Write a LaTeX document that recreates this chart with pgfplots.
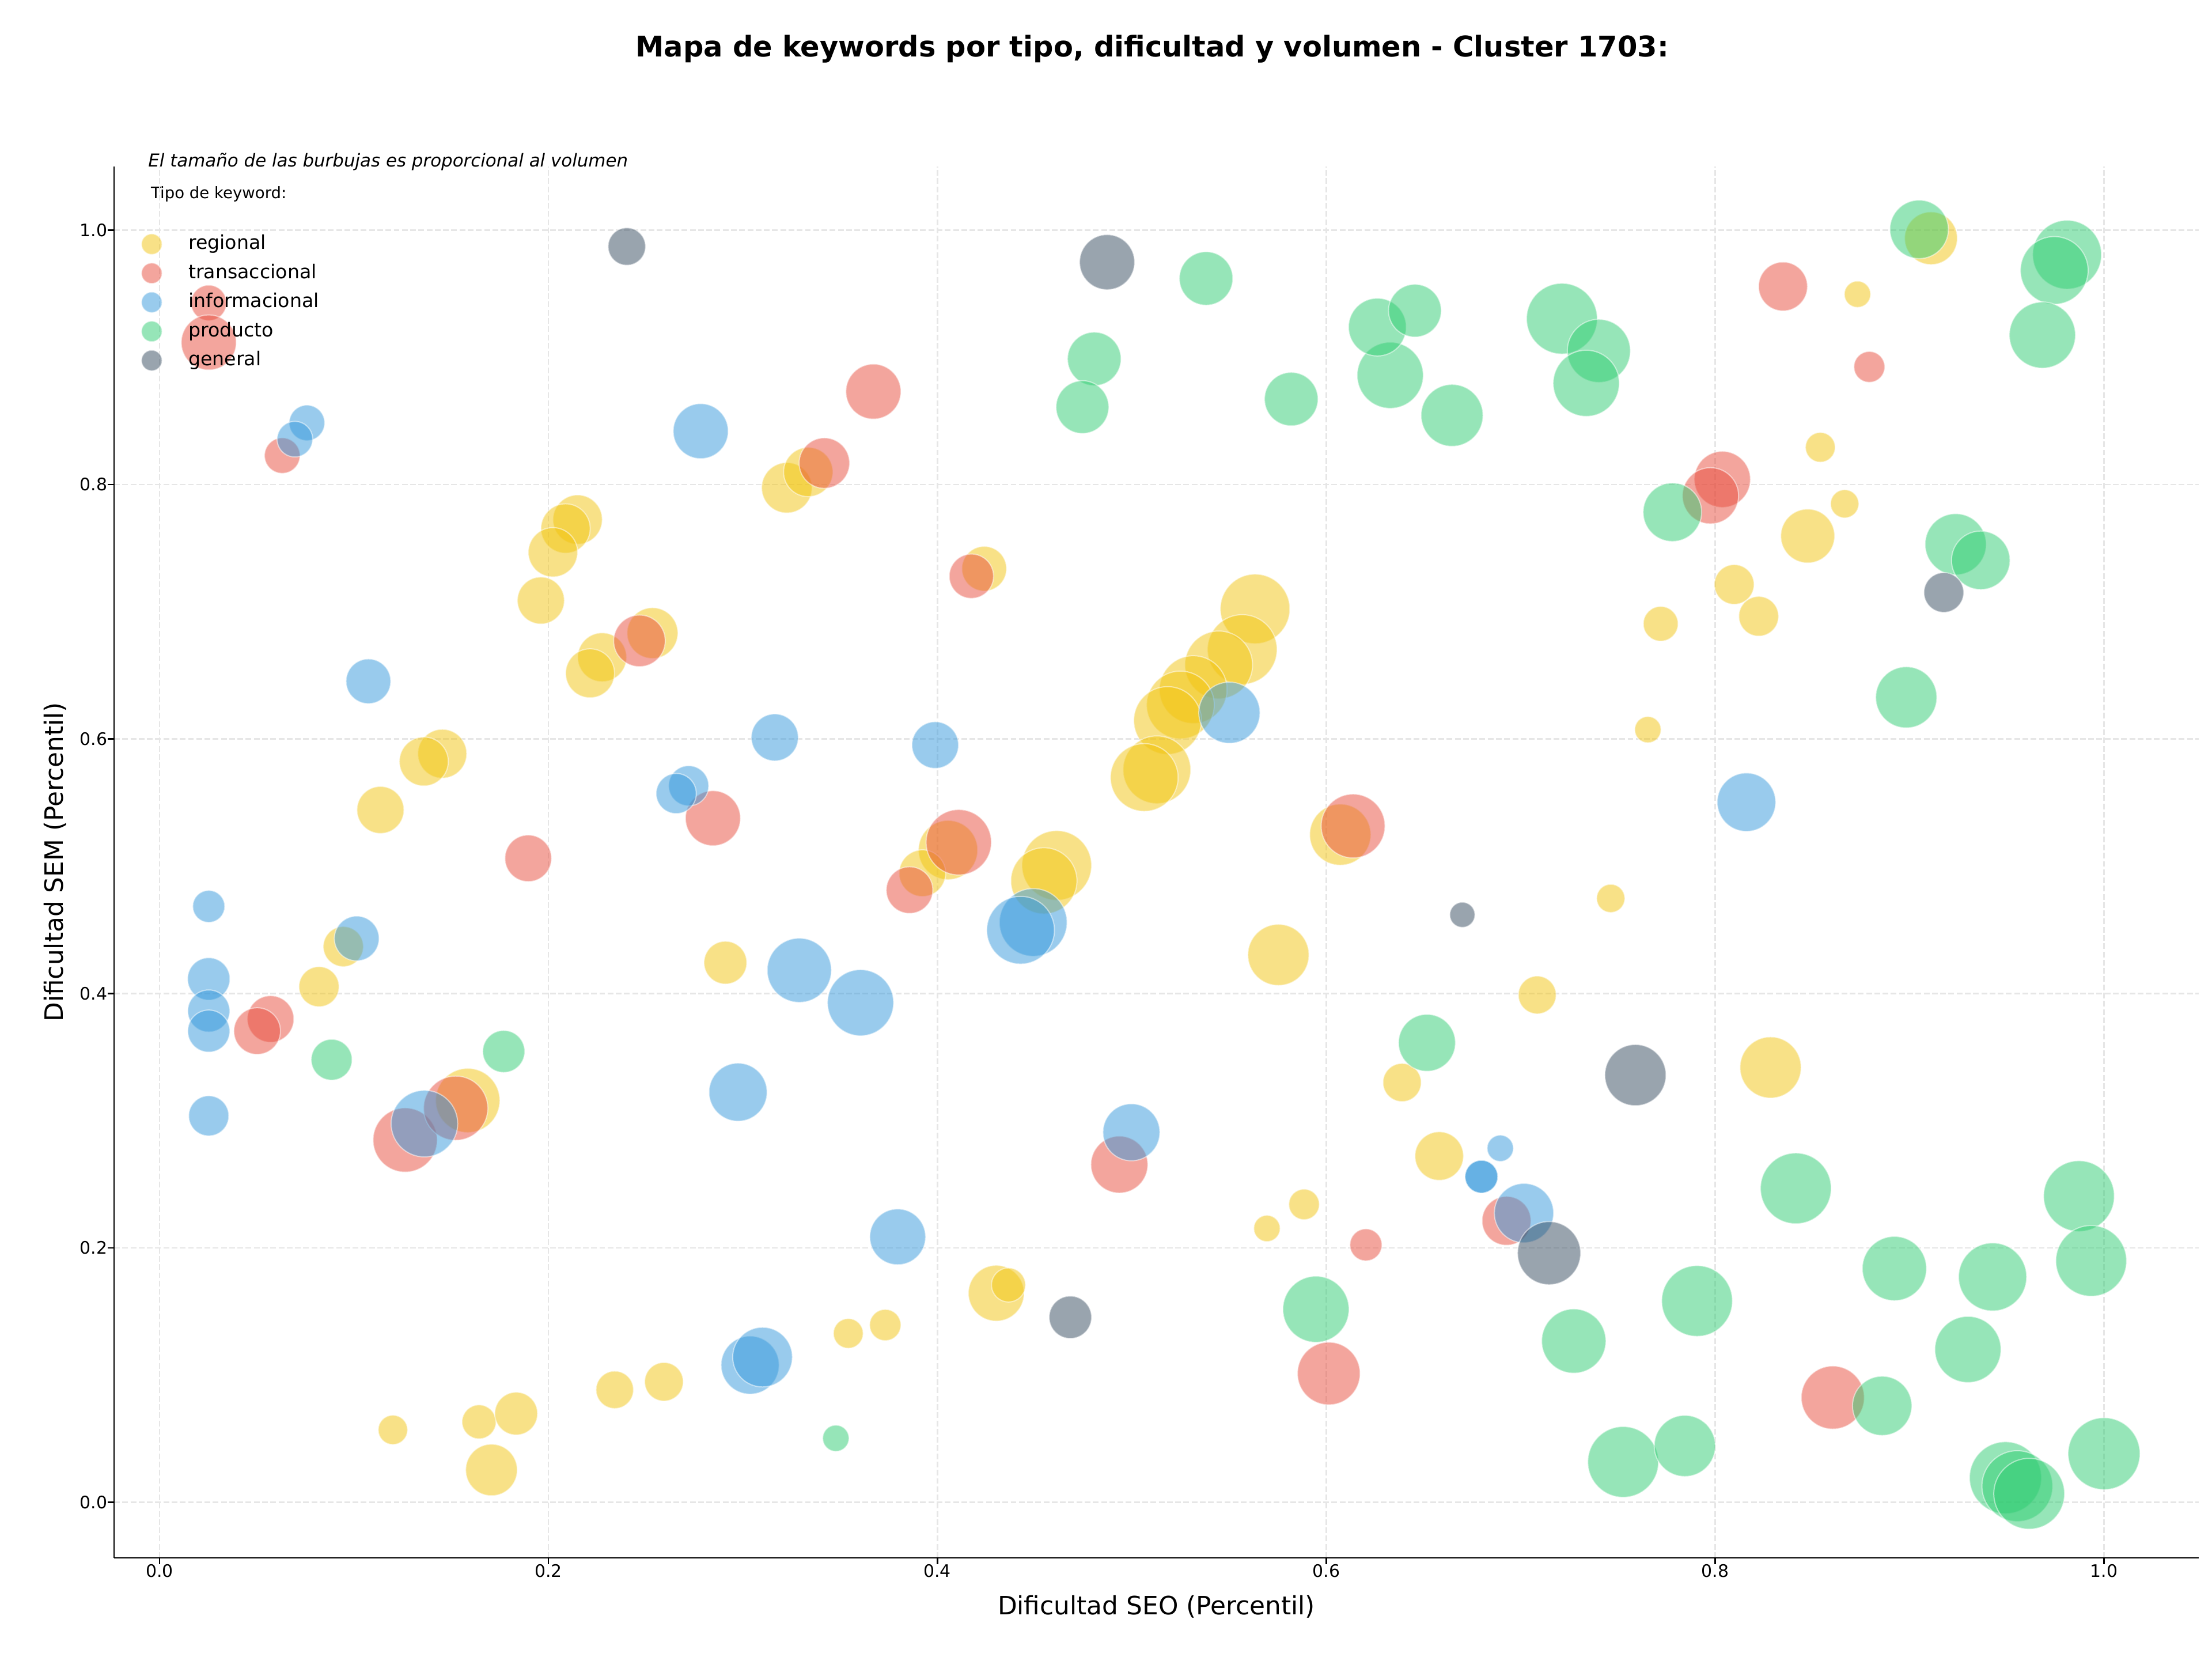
\documentclass[border=0pt]{standalone}
\usepackage{fontspec}
\setmainfont{DejaVu Sans}[ItalicFont={DejaVu Sans Oblique}, BoldFont={DejaVu Sans Bold}, BoldItalicFont={DejaVu Sans Bold Oblique}]
\usepackage{pgfplots}
\pgfplotsset{compat=1.18}

\definecolor{regional}{HTML}{F1C40F}
\definecolor{transaccional}{HTML}{E74C3C}
\definecolor{informacional}{HTML}{3498DB}
\definecolor{producto}{HTML}{2ECC71}
\definecolor{general}{HTML}{34495E}
\definecolor{gridgray}{HTML}{E6E6E6}

% one bubble series: x, y and radius r (pt) per row
\pgfplotsset{
  bubble/.style={
    scatter, only marks, mark=*,
    scatter/use mapped color={draw=white, fill=#1},
    visualization depends on={\thisrow{r} \as \bubblesize},
    scatter/@pre marker code/.append style={/tikz/mark size=\bubblesize},
    mark options={fill opacity=0.5, draw opacity=0.5, line width=0.6pt},
    legend image code/.code={%
      \draw[fill=#1, draw=white, fill opacity=0.5, draw opacity=0.5, line width=0.6pt]
        (0pt,0pt) circle (5.4pt);},
  },
}

\begin{document}
\begin{tikzpicture}
\path[use as bounding box] (0,0) rectangle (16in,12.0125in);
\begin{axis}[
  at={(0.825in,0.7458in)}, anchor=south west,
  width=15.079in, height=10.0625in, scale only axis,
  xmin=-0.0234, xmax=1.0487, ymin=-0.0436, ymax=1.0499,
  clip=false,
  axis x line*=bottom, axis y line*=left,
  x axis line style={-, line width=0.8pt},
  y axis line style={-, line width=0.8pt},
  axis on top,
  xtick={0,0.2,0.4,0.6,0.8,1.0},
  ytick={0,0.2,0.4,0.6,0.8,1.0},
  xticklabels={0.0,0.2,0.4,0.6,0.8,1.0},
  yticklabels={0.0,0.2,0.4,0.6,0.8,1.0},
  tick align=outside, major tick length=3.3pt,
  tick style={black, line width=0.8pt},
  ticklabel style={font=\fontsize{9}{10}\selectfont},
  xticklabel style={inner sep=0pt, anchor=north},
  yticklabel style={inner sep=0pt, anchor=east},
  /pgf/number format/assume math mode=true,
  grid=major,
  major grid style={gridgray, line width=0.8pt, dash pattern=on 3pt off 1.3pt},
  xlabel={Dificultad SEO (Percentil)},
  ylabel={Dificultad SEM (Percentil)},
  xlabel style={at={(axis description cs:0.5,0)}, anchor=base, yshift=-29.7pt,
    font=\fontsize{13.2}{16}\selectfont},
  ylabel style={at={(axis description cs:-0.0245,0.5)}, rotate=0, anchor=base,
    font=\fontsize{13.2}{16}\selectfont},
  title={Mapa de keywords por tipo, dificultad y volumen - Cluster 1703:},
  title style={at={(axis description cs:0.5,1)}, anchor=base, yshift=51.3pt, xshift=-2.2pt,
    font=\bfseries\fontsize{14.9}{18}\selectfont},
  legend cell align=left,
  legend style={at={(rel axis cs:0,1)}, anchor=north west, xshift=13.8pt, yshift=-34.7pt,
    draw=none, fill=none, font=\fontsize{10}{12}\selectfont,
    row sep=3.8pt, column sep=13.5pt, inner sep=0pt,
    nodes={inner sep=0pt, text height=7.5pt, text depth=2.2pt}},
]

% regional
\addplot[bubble=regional] table {
x y r
0.9110 0.9935 13.8
0.8732 0.9495 6.9
0.8541 0.8292 7.8
0.8666 0.7848 7.4
0.8476 0.7595 14.1
0.8098 0.7214 10.4
0.8224 0.6964 10.4
0.7720 0.6905 9.1
0.7654 0.6073 6.9
0.7463 0.4747 7.4
0.7085 0.3988 9.9
0.8285 0.3418 16.0
0.6390 0.3300 10.0
0.6581 0.2722 12.7
0.5886 0.2342 8.0
0.5695 0.2153 6.9
0.5754 0.4303 16.0
0.6072 0.5248 16.0
0.5634 0.7022 18.2
0.5568 0.6703 18.2
0.5447 0.6582 17.7
0.5316 0.6388 17.7
0.5250 0.6267 17.7
0.5184 0.6145 17.7
0.5129 0.5758 17.7
0.5064 0.5697 17.7
0.4614 0.5006 18.2
0.4548 0.4885 17.3
0.4055 0.5127 15.5
0.3923 0.4945 12.2
0.4241 0.7338 11.7
0.4303 0.1644 14.6
0.4366 0.1709 8.9
0.3732 0.1394 8.2
0.3542 0.1328 7.8
0.3226 0.7974 13.2
0.3336 0.8098 12.9
0.2150 0.7724 12.9
0.2088 0.7654 12.9
0.2023 0.7467 12.9
0.1961 0.7088 12.3
0.2276 0.6642 12.8
0.2214 0.6516 12.8
0.2535 0.6832 13.3
0.1454 0.5884 12.8
0.1359 0.5823 12.8
0.1136 0.5442 12.3
0.0945 0.4368 10.5
0.0820 0.4053 10.5
0.2910 0.4242 11.2
0.1585 0.3159 16.8
0.1200 0.0570 7.7
0.1643 0.0633 8.9
0.1834 0.0698 11.2
0.1707 0.0255 13.5
0.2341 0.0885 9.8
0.2594 0.0948 10.1
};
\addlegendentry{regional}

% transaccional
\addplot[bubble=transaccional] table {
x y r
0.0253 0.9427 9.3
0.0253 0.9116 14.4
0.0631 0.8227 9.3
0.3419 0.8168 13.2
0.3671 0.8730 14.4
0.4175 0.7279 11.6
0.2468 0.6771 13.5
0.1896 0.5062 12.2
0.2846 0.5377 14.4
0.0571 0.3799 12.2
0.0502 0.3704 12.2
0.1263 0.2848 16.8
0.1523 0.3098 16.8
0.4110 0.5188 17.1
0.3857 0.4812 12.2
0.6138 0.5316 16.7
0.4936 0.2655 14.9
0.6204 0.2024 8.4
0.6013 0.1013 16.4
0.6927 0.2213 12.8
0.8605 0.0824 16.5
0.8037 0.8040 14.7
0.7976 0.7911 14.7
0.8349 0.9556 12.8
0.8793 0.8924 8.1
};
\addlegendentry{transaccional}

% informacional
\addplot[bubble=informacional] table {
x y r
0.0758 0.8484 9.3
0.0696 0.8356 9.3
0.2783 0.8419 14.4
0.1074 0.6453 11.7
0.3164 0.6012 12.3
0.2721 0.5632 10.5
0.2657 0.5571 10.5
0.0253 0.4684 8.4
0.1014 0.4432 11.7
0.0253 0.4114 11.1
0.0253 0.3862 11.0
0.0253 0.3704 11.0
0.0253 0.3038 10.5
0.1362 0.2977 17.4
0.2975 0.3224 15.2
0.3290 0.4182 16.8
0.3605 0.3927 17.3
0.3989 0.5952 12.2
0.4493 0.4558 17.7
0.4428 0.4497 17.7
0.5502 0.6206 16.0
0.3037 0.1079 15.2
0.3101 0.1142 15.6
0.3796 0.2087 14.6
0.4998 0.2909 14.9
0.8161 0.5503 15.3
0.6895 0.2783 6.9
0.6798 0.2560 8.6
0.6798 0.2560 8.6
0.7017 0.2274 15.5
};
\addlegendentry{informacional}

% producto
\addplot[bubble=producto] table {
x y r
0.9049 1.0005 15.3
0.9810 0.9806 18.0
0.9744 0.9682 17.7
0.9683 0.9174 17.3
0.7212 0.9303 18.5
0.7402 0.9050 16.5
0.7337 0.8795 17.3
0.6647 0.8543 16.2
0.6329 0.8858 17.3
0.6263 0.9237 15.1
0.6456 0.9366 13.8
0.5820 0.8671 14.0
0.5382 0.9619 14.0
0.4807 0.8987 14.0
0.4746 0.8608 13.8
0.7780 0.7782 15.3
0.9237 0.7530 16.0
0.9366 0.7404 15.3
0.8983 0.6327 16.0
0.6518 0.3612 14.9
0.1770 0.3544 11.0
0.0885 0.3479 10.7
0.3478 0.0504 6.9
0.5947 0.1518 17.3
0.8415 0.2468 18.5
0.7907 0.1583 18.5
0.7273 0.1268 16.8
0.7527 0.0318 18.5
0.7844 0.0444 16.0
0.8859 0.0759 15.5
0.8922 0.1838 16.8
0.9427 0.1772 17.8
0.9300 0.1202 17.3
0.9871 0.2407 18.5
0.9934 0.1898 18.5
1.0000 0.0383 18.8
0.9493 0.0194 18.8
0.9554 0.0128 18.5
0.9615 0.0068 18.5
};
\addlegendentry{producto}

% general
\addplot[bubble=general] table {
x y r
0.2403 0.9870 9.8
0.4873 0.9747 14.4
0.9176 0.7151 10.4
0.6700 0.4618 6.6
0.7590 0.3358 16.0
0.4684 0.1455 11.1
0.7146 0.1959 16.5
};
\addlegendentry{general}

\node[anchor=base west, inner sep=0pt, xshift=17.7pt, yshift=-0.3pt,
  font=\itshape\fontsize{9.3}{11}\selectfont] at (rel axis cs:0,1)
  {El tamaño de las burbujas es proporcional al volumen};
\node[anchor=base west, inner sep=0pt, xshift=19.1pt, yshift=-16.8pt,
  font=\fontsize{8.3}{10}\selectfont] at (rel axis cs:0,1)
  {Tipo de keyword:};
\end{axis}
\end{tikzpicture}
\end{document}
